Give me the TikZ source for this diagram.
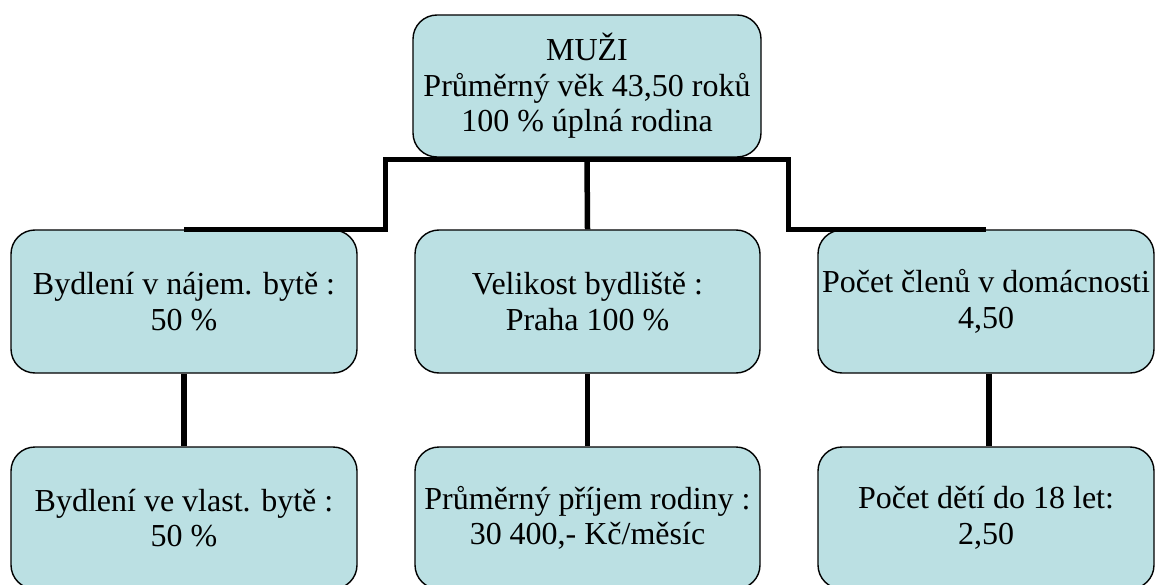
\documentclass[tikz,border=0pt]{standalone}
\usepackage{fontspec}
\setmainfont{Liberation Serif}
\definecolor{boxfill}{RGB}{187,224,227}
\begin{document}
\begin{tikzpicture}[x=1pt,y=-1pt,
  box/.style={draw=black,line width=1.4pt,fill=boxfill,rounded corners=24pt,
    align=center,inner sep=0pt,minimum height=142pt,
    font=\fontsize{32}{35.5}\selectfont},
  conn/.style={draw=black,line width=5.5pt,line join=miter}]
\useasboundingbox (0,0) rectangle (1155,585);
\node[box,minimum width=348pt] (top) at (587,86) {MUŽI\\Průměrný věk 43,50 roků\\100 \% úplná rodina};
\node[box,minimum width=346pt,minimum height=143pt] (l1) at (184,301.5) {Bydlení v nájem. bytě :\\50 \%};
\node[box,minimum width=345pt,minimum height=143pt] (m1) at (587.5,301.5) {Velikost bydliště :\\Praha 100 \%};
\node[box,minimum width=336pt,minimum height=143pt] (r1) at (986,301.5) {Počet členů v domácnosti\\4,50};
\node[box,minimum width=346pt] (l2) at (184,518) {Bydlení ve vlast. bytě :\\50 \%};
\node[box,minimum width=345pt] (m2) at (587.5,518) {Průměrný příjem rodiny :\\30 400,- Kč/měsíc};
\node[box,minimum width=336pt] (r2) at (986,518) {Počet dětí do 18 let:\\2,50};
\coordinate (hl) at (385.5,159.5);
\coordinate (hr) at (788.5,159.5);
\draw[conn] (l1.north) -| (hl) -- (hr) |- (r1.north);
\draw[conn] (top.south) -- (m1.north);
\draw[conn] (l1.south) -- (l2.north);
\draw[conn] (m1.south) -- (m2.north);
\draw[conn] ([xshift=3pt]r1.south) -- ([xshift=3pt]r2.north);
\end{tikzpicture}
\end{document}
